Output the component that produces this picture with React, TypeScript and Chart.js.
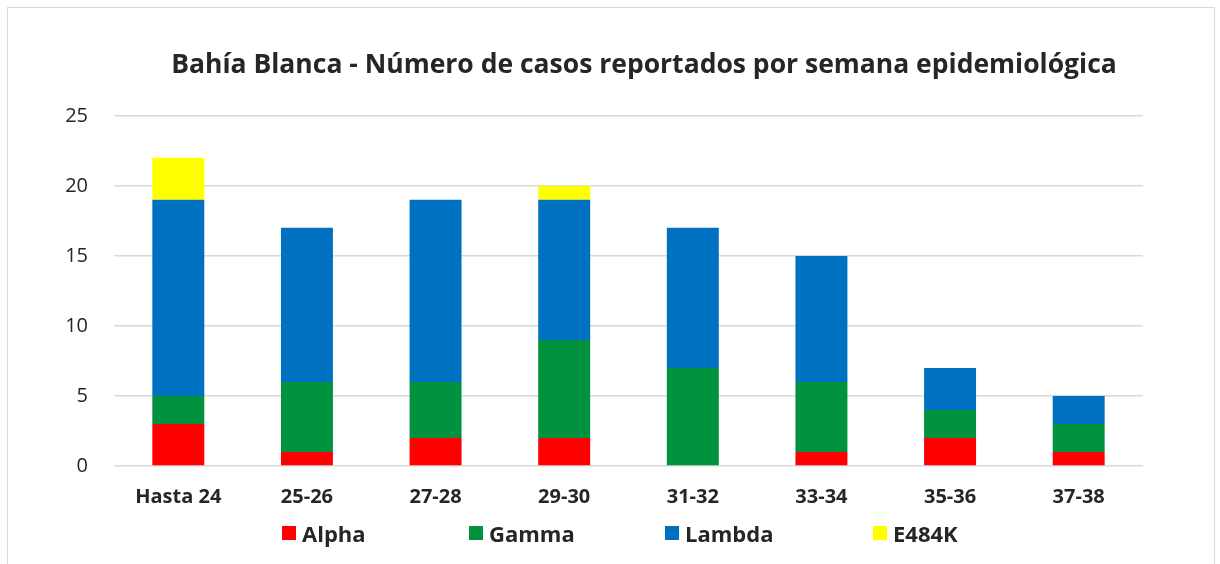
import React, { useEffect, useRef } from "react";
import { Chart, registerables } from "chart.js";

Chart.register(...registerables);

const titleText = "Bahía Blanca - Número de casos reportados por semana epidemiológica";
const categories = ["Hasta 24", "25-26", "27-28", "29-30", "31-32", "33-34", "35-36", "37-38"];
const seriesNames = ["Alpha", "Gamma", "Lambda", "E484K"];
const seriesColors = ["#FF0000", "#00923F", "#0070C0", "#FFFF00"];
const alphaValues = [3, 1, 2, 2, 0, 1, 2, 1];
const gammaValues = [2, 5, 4, 7, 7, 5, 2, 2];
const lambdaValues = [14, 11, 13, 10, 10, 9, 3, 2];
const e484kValues = [3, 0, 0, 1, 0, 0, 0, 0];
const yTicks = [0, 5, 10, 15, 20, 25];

const FONT = "'Open Sans', 'DejaVu Sans', sans-serif";
const TEXT = "#262626";
const CANVAS_W = 1252;
const CANVAS_H = 556;

export default function App() {
  const ref = useRef<HTMLCanvasElement | null>(null);

  useEffect(() => {
    if (!ref.current) return;
    const values = [alphaValues, gammaValues, lambdaValues, e484kValues];
    const chart = new Chart(ref.current, {
      type: "bar",
      data: {
        labels: categories,
        datasets: seriesNames.map((name, i) => ({
          label: name,
          data: values[i],
          backgroundColor: seriesColors[i],
          borderWidth: 0,
          barPercentage: 0.404,
          categoryPercentage: 1,
          yAxisID: "y",
        })),
      },
      options: {
        responsive: false,
        animation: false,
        layout: { padding: { left: 20, right: 0, top: 0, bottom: 0 } },
        plugins: {
          legend: { display: false },
          tooltip: { enabled: false },
          title: {
            display: true,
            text: titleText,
            color: TEXT,
            font: { family: FONT, size: 26.5, weight: "bold" },
            padding: { top: 42, bottom: 34 },
          },
        },
        scales: {
          x: {
            stacked: true,
            grid: { display: false, drawTicks: false },
            border: { display: false },
            ticks: {
              color: TEXT,
              padding: 19,
              font: { family: FONT, size: 20, weight: "bold" },
            },
            afterFit: (s: any) => {
              s.height = 98;
            },
          },
          y: {
            stacked: true,
            position: "left",
            min: 0,
            max: 25,
            afterBuildTicks: (s: any) => {
              s.ticks = yTicks.map((v) => ({ value: v }));
            },
            grid: { color: "#d9d9d9", lineWidth: 1.5, drawTicks: false },
            border: { display: false },
            ticks: {
              color: TEXT,
              padding: 26,
              font: { family: FONT, size: 20 },
            },
            afterFit: (s: any) => {
              s.width = 86;
            },
          },
          yRight: {
            display: true,
            position: "right",
            grid: { display: false, drawTicks: false },
            border: { display: false },
            ticks: { display: false },
            afterFit: (s: any) => {
              s.width = 117;
            },
          },
        },
      },
    });
    return () => chart.destroy();
  }, []);

  const legendWidths = [187, 196, 208, 140];

  return (
    <div
      style={{
        position: "absolute",
        left: 7,
        top: 7,
        width: 1206,
        height: 556,
        borderTop: "1px solid #d9d9d9",
        borderLeft: "1px solid #d9d9d9",
        borderRight: "1px solid #d9d9d9",
        overflow: "hidden",
        background: "#fff",
      }}
    >
      <canvas
        ref={ref}
        width={CANVAS_W}
        height={CANVAS_H}
        style={{ display: "block", width: CANVAS_W, height: CANVAS_H }}
      />
      <div
        style={{
          position: "absolute",
          left: 274,
          top: 512,
          display: "flex",
          alignItems: "center",
          height: 26,
          fontFamily: FONT,
          fontWeight: "bold",
          fontSize: 22,
          color: TEXT,
          lineHeight: "26px",
        }}
      >
        {seriesNames.map((name, i) => (
          <div key={name} style={{ width: legendWidths[i], display: "flex", alignItems: "center" }}>
            <span style={{ width: 14, height: 14, background: seriesColors[i], display: "inline-block", marginRight: 6 }} />
            <span>{name}</span>
          </div>
        ))}
      </div>
    </div>
  );
}
